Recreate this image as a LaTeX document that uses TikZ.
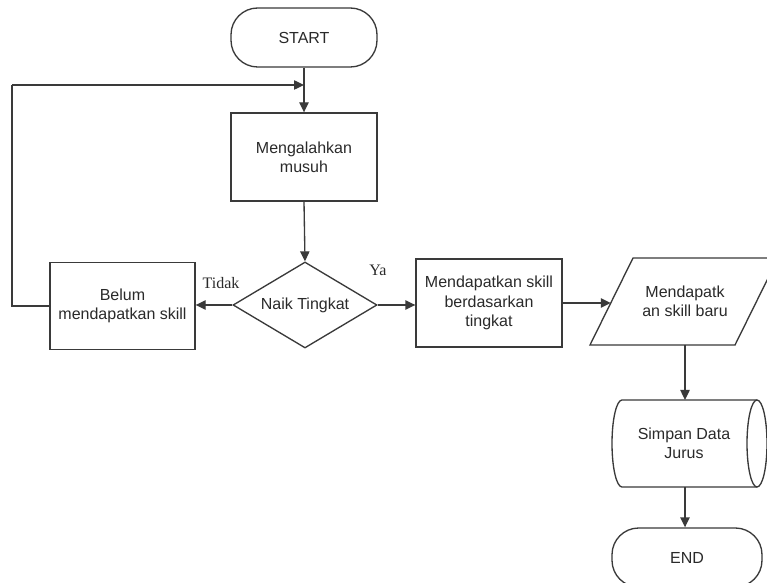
\documentclass[tikz,border=0pt]{standalone}
\usepackage{fontspec}
\setmainfont{Liberation Sans}
\newfontfamily\serifface{Liberation Serif}
\usetikzlibrary{arrows.meta,shapes.geometric}
\definecolor{ln}{HTML}{3A3A3A}
\definecolor{tx}{HTML}{2A2A2A}
\begin{document}
\begin{tikzpicture}[x=0.75pt,y=0.75pt,
  every node/.style={text=tx,font=\fontsize{12}{14.5}\selectfont},
  box/.style={draw=ln,line width=1pt,fill=white,align=center,inner sep=0pt,minimum width=109.5pt,minimum height=66pt},
  term/.style={draw=ln,line width=1pt,fill=white,rounded corners=20pt,inner sep=0pt,minimum height=44.25pt},
  dec/.style={draw=ln,line width=1pt,fill=white,shape=diamond,aspect=1.674,inner sep=0pt,minimum width=108pt,minimum height=64.5pt},
  lbl/.style={font=\serifface\fontsize{12}{14}\selectfont},
  arr/.style={draw=ln,line width=1pt,-{Triangle[length=7.5pt,width=7pt]}},
  ln/.style={draw=ln,line width=1pt}]
\useasboundingbox (0,0) rectangle (767,582);
\fill[white] (0,0) rectangle (767,582);

% nodes
\node[term,minimum width=109.5pt] (start) at (304,544.5) {START};
\node[box] (kill) at (304,425) {Mengalahkan\\musuh};
\node[dec] (naik) at (305,277) {Naik Tingkat};
\node[box,minimum width=108.75pt,minimum height=65.25pt] (belum) at (122.5,276) {Belum\\mendapatkan skill};
\node[box] (dapat) at (489,279) {Mendapatkan skill\\berdasarkan\\tingkat};

% parallelogram (data)
\draw[ln,fill=white] (590,237) -- (735,237) -- (778,324) -- (633,324) -- cycle;
\node[align=center] (baru) at (685,281) {Mendapatk\\an skill baru};
\coordinate (baruin) at (610.8,279);
\coordinate (baruout) at (685,237);

% storage (horizontal cylinder)
\draw[ln,fill=white] (757,182) -- (622,182) arc[start angle=90,end angle=270,x radius=10,y radius=43.5] -- (757,95);
\draw[ln,fill=white] (757,138.5) ellipse[x radius=10,y radius=43.5];
\node[align=center] (simpan) at (684,138.5) {Simpan Data\\Jurus};
\coordinate (simpanin) at (685,182);
\coordinate (simpanout) at (685,95);

\node[term,minimum width=112.5pt] (end) at (687,24.5) {END};

% labels
\node[lbl] (tidak) at (221,299) {Tidak};
\node[lbl] (ya) at (378,312) {Ya};

% connectors
\coordinate (loopa) at (12,276);
\coordinate (loopb) at (12,497);
\coordinate (join) at (304,497);
\draw[arr] (start.south) -- (kill.north);
\draw[arr] (kill.south) -- (naik.north);
\draw[arr] (naik.west) -- (naik.west -| belum.east);
\draw[arr] (naik.east) -- (naik.east -| dapat.west);
\draw[arr] (dapat.east |- baruin) -- (baruin);
\draw[arr] (baruout) -- (simpanin);
\draw[arr] (simpanout) -- (simpanout |- end.north);
\draw[ln] (belum.west) -- (loopa) -- (loopb);
\draw[arr] (loopb) -- (join);
\end{tikzpicture}
\end{document}
